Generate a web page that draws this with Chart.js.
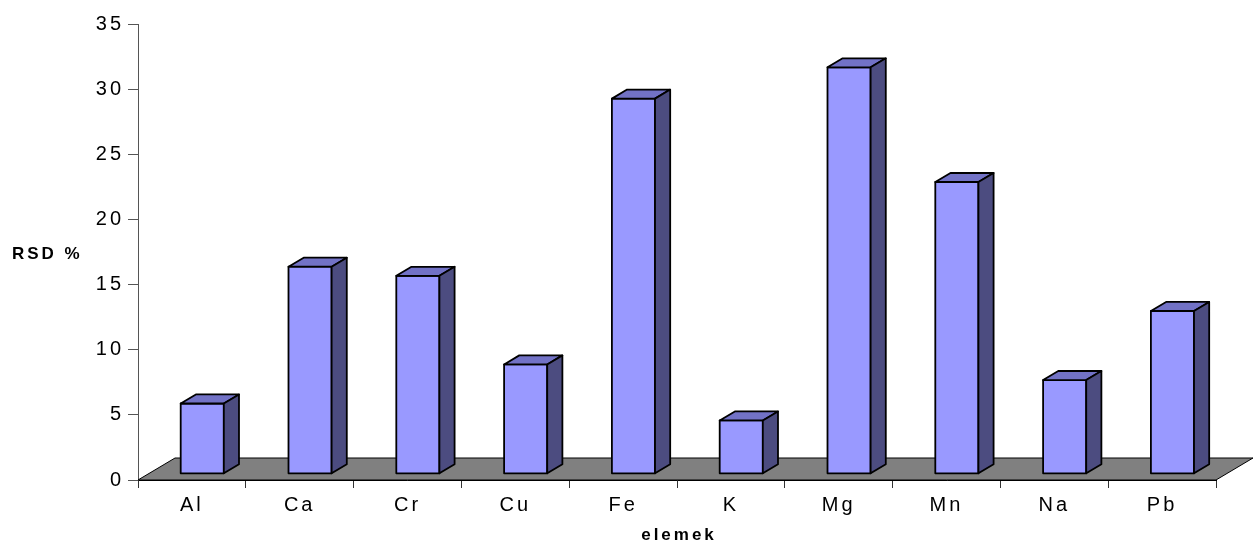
<!DOCTYPE html>
<html>
<head>
<meta charset="utf-8">
<script src="https://cdn.jsdelivr.net/npm/chart.js@4.4.1/dist/chart.umd.min.js"></script>
<style>
  html, body { margin: 0; padding: 0; background: #fff; }
  #wrap { width: 1254px; height: 543px; }
</style>
</head>
<body>
<div id="wrap"><canvas id="c" width="1254" height="543"></canvas></div>
<script>
// RSD % per element
const elements = ['Al', 'Ca', 'Cr', 'Cu', 'Fe', 'K', 'Mg', 'Mn', 'Na', 'Pb'];
const rsdValues = [5.4, 15.9, 15.2, 8.4, 28.8, 4.1, 31.2, 22.4, 7.2, 12.5];
const yMin = 0, yMax = 35, yStep = 5;
const yTitle = 'RSD %';
const xTitle = 'elemek';

// oblique depth of the floor (pixels)
const DEPTH_X = 37, DEPTH_Y = 22;
const FONT = '"Liberation Sans", Arial, sans-serif';

const bar3d = {
  id: 'bar3d',
  beforeDraw(chart) {
    chart.ctx.letterSpacing = '3px';
  },
  beforeDatasetsDraw(chart) {
    const { ctx, chartArea: a } = chart;
    ctx.save();
    ctx.beginPath();
    ctx.moveTo(a.left, a.bottom);
    ctx.lineTo(a.right, a.bottom);
    ctx.lineTo(a.right + DEPTH_X, a.bottom - DEPTH_Y);
    ctx.lineTo(a.left + DEPTH_X, a.bottom - DEPTH_Y);
    ctx.closePath();
    ctx.fillStyle = '#808080';
    ctx.fill();
    ctx.lineWidth = 1;
    ctx.strokeStyle = '#000';
    ctx.stroke();
    ctx.restore();
  },
  afterDatasetsDraw(chart) {
    const { ctx } = chart;
    const meta = chart.getDatasetMeta(0);
    const ox = DEPTH_X * 0.28, oy = DEPTH_Y * 0.28;   // front face set back from the front edge
    const dx = DEPTH_X * 0.41, dy = DEPTH_Y * 0.41;   // bar depth
    ctx.save();
    ctx.lineWidth = 1.8;
    ctx.strokeStyle = '#000';
    ctx.lineJoin = 'round';
    meta.data.forEach(el => {
      const { x, y, base, width } = el.getProps(['x', 'y', 'base', 'width'], true);
      const l = x - width / 2 + ox, r = x + width / 2 + ox;
      const t = y - oy, b = base - oy;
      // front
      ctx.beginPath();
      ctx.rect(l, t, r - l, b - t);
      ctx.fillStyle = '#9999FF';
      ctx.fill();
      ctx.stroke();
      // top
      ctx.beginPath();
      ctx.moveTo(l, t);
      ctx.lineTo(l + dx, t - dy);
      ctx.lineTo(r + dx, t - dy);
      ctx.lineTo(r, t);
      ctx.closePath();
      ctx.fillStyle = '#7272C6';
      ctx.fill();
      ctx.stroke();
      // side
      ctx.beginPath();
      ctx.moveTo(r, t);
      ctx.lineTo(r + dx, t - dy);
      ctx.lineTo(r + dx, b - dy);
      ctx.lineTo(r, b);
      ctx.closePath();
      ctx.fillStyle = '#4C4C80';
      ctx.fill();
      ctx.stroke();
    });
    ctx.restore();
  },
  afterDraw(chart) {
    const { ctx, chartArea: a } = chart;
    ctx.save();
    ctx.fillStyle = '#000';
    ctx.font = 'bold 17px ' + FONT;
    ctx.letterSpacing = '3px';
    ctx.textBaseline = 'middle';
    ctx.textAlign = 'left';
    ctx.fillText(yTitle, 12, 254);
    ctx.textAlign = 'center';
    ctx.fillText(xTitle, (a.left + a.right) / 2 + 2, 535);
    ctx.restore();
  }
};

new Chart(document.getElementById('c'), {
  type: 'bar',
  data: {
    labels: elements,
    datasets: [{
      label: yTitle,
      data: rsdValues,
      backgroundColor: 'rgba(0,0,0,0)',
      borderWidth: 0,
      categoryPercentage: 1,
      barPercentage: 0.4
    }]
  },
  options: {
    responsive: false,
    animation: false,
    devicePixelRatio: 1,
    events: [],
    layout: { padding: { top: 24, right: 38, left: 0, bottom: 0 } },
    plugins: { legend: { display: false }, tooltip: { enabled: false } },
    scales: {
      x: {
        grid: { offset: true, drawOnChartArea: false, tickLength: 8, color: '#333' },
        border: { color: '#000' },
        ticks: { color: '#000', font: { family: FONT, size: 20 }, padding: 5 },
        afterFit(s) { s.height = 63; }
      },
      y: {
        min: yMin, max: yMax,
        grid: { drawOnChartArea: false, tickLength: 10, color: '#555' },
        border: { color: '#555' },
        ticks: { stepSize: yStep, color: '#000', font: { family: FONT, size: 20 }, padding: 4 },
        afterFit(s) { s.width = 138; }
      }
    }
  },
  plugins: [bar3d]
});
</script>
</body>
</html>
